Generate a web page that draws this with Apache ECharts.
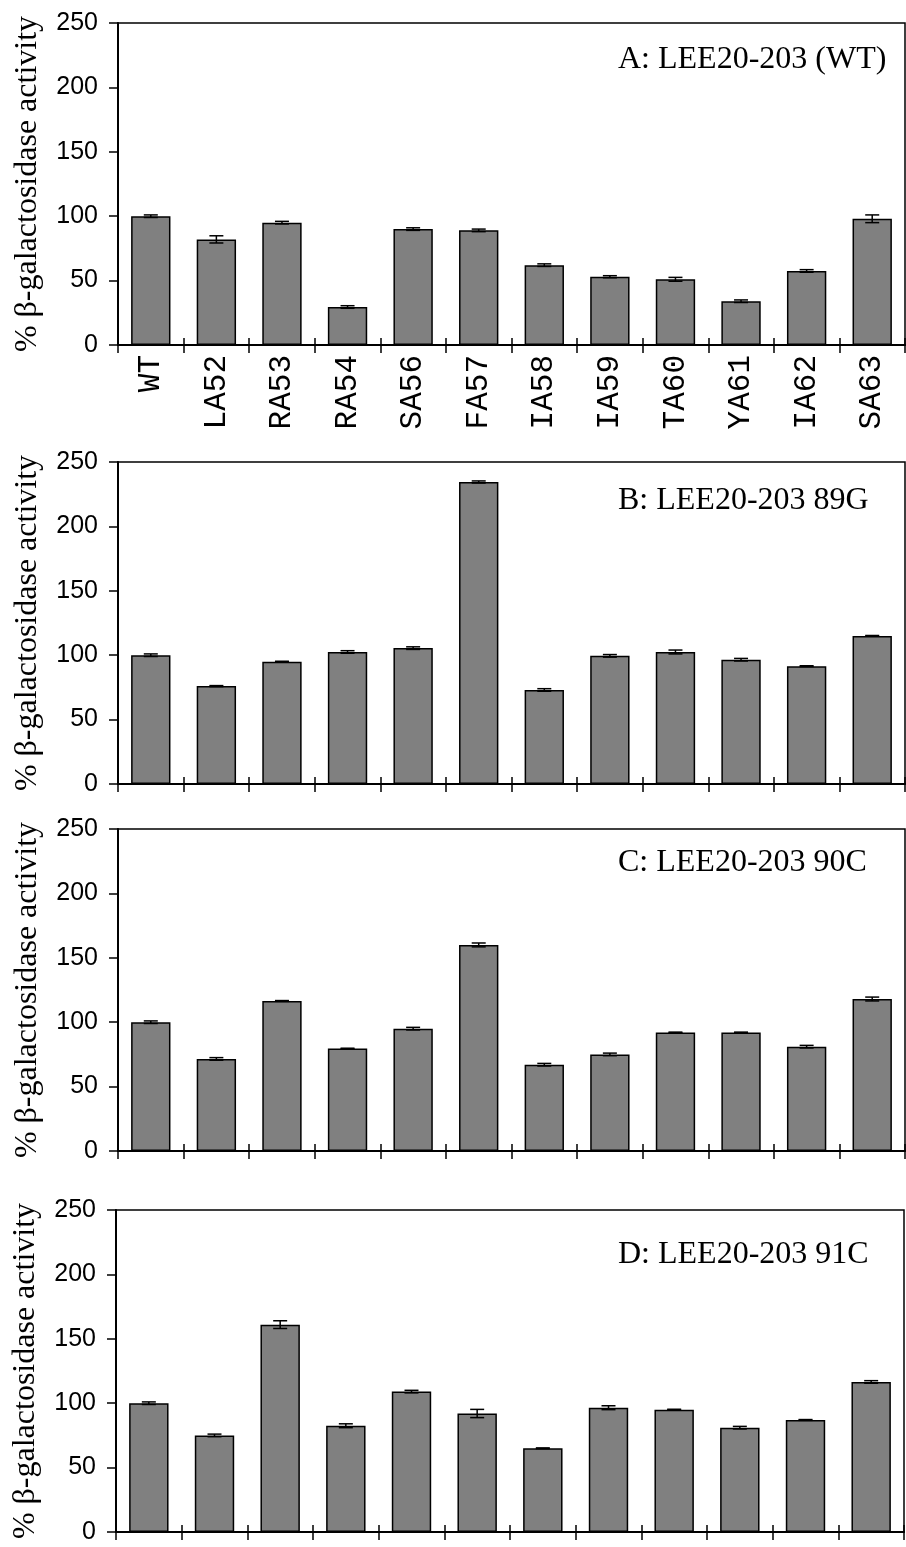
<!DOCTYPE html>
<html>
<head>
<meta charset="utf-8">
<script src="https://cdn.jsdelivr.net/npm/echarts@6/dist/echarts.min.js"></script>
<style>
html,body{margin:0;padding:0;background:#fff;}
#chart{width:906px;height:1547px;}
</style>
</head>
<body>
<div id="chart"></div>
<script>
var categories = ['WT','LA52','RA53','RA54','SA56','FA57','IA58','IA59','TA60','YA61','IA62','SA63'];
var panelTitles = ['A: LEE20-203 (WT)','B: LEE20-203 89G','C: LEE20-203 90C','D: LEE20-203 91C'];
var yTickValues = [0, 50, 100, 150, 200, 250];
var yAxisTitle = '% \u03b2-galactosidase activity';

var valuesA = [100, 82, 95, 29.5, 90, 89, 62, 53, 51, 34, 57.5, 98];
var errorsA = [1, 2.8, 1, 1, 1, 1, 1, 0.8, 1.5, 1, 1, 3];
var valuesB = [100, 76, 95, 102.5, 105.5, 234.5, 73, 99.5, 102.5, 96.5, 91.5, 115];
var errorsB = [1, 0.4, 0.3, 1, 1, 0.8, 1, 1, 1.5, 1, 0.3, 0.3];
var valuesC = [100, 71.5, 116.5, 79.5, 95, 160, 67, 75, 92, 92, 81, 118];
var errorsC = [1, 1, 0.3, 0.3, 1, 1.5, 1, 1, 0.3, 0.3, 1, 1.5];
var valuesD = [100, 75, 161, 82.5, 109, 92, 65, 96.5, 95, 81, 87, 116.5];
var errorsD = [1, 1, 3, 1.5, 1, 3.2, 0.3, 1.5, 0.3, 1, 0.3, 1];

var allValues = [valuesA, valuesB, valuesC, valuesD];
var allErrors = [errorsA, errorsB, errorsC, errorsD];

var layouts = [
  {left: 118, top: 23, width: 787, height: 322, titleTop: 44},
  {left: 118, top: 462, width: 787, height: 322, titleTop: 485},
  {left: 118, top: 829, width: 787, height: 322, titleTop: 847},
  {left: 116, top: 1210, width: 788, height: 322, titleTop: 1239}
];

var chart = echarts.init(document.getElementById('chart'), null, {renderer: 'canvas'});

var grids = [], xAxes = [], yAxes = [], series = [], titles = [];

layouts.forEach(function (L, i) {
  grids.push({left: L.left, top: L.top, width: L.width, height: L.height,
    show: true, borderColor: '#000', borderWidth: 1.5, backgroundColor: 'transparent', containLabel: false});
  xAxes.push({
    type: 'category', gridIndex: i, data: categories, position: 'bottom',
    axisLine: {show: true, lineStyle: {color: '#000', width: 2}},
    axisTick: {show: true, inside: false, length: 8, lineStyle: {color: '#000', width: 1.5}},
    axisLabel: {show: i === 0, rotate: 90, margin: 10, interval: 0,
      fontFamily: 'Liberation Mono', fontSize: 31, color: '#000'},
    splitLine: {show: false}, z: 5
  });
  xAxes.push({
    type: 'category', gridIndex: i, data: categories, position: 'bottom',
    axisLine: {show: false},
    axisTick: {show: true, inside: true, length: 7, lineStyle: {color: '#000', width: 1.5}},
    axisLabel: {show: false}, splitLine: {show: false}, z: 5
  });
  yAxes.push({
    type: 'value', gridIndex: i, min: 0, max: 250, interval: 50,
    axisLine: {show: true, lineStyle: {color: '#000', width: 2}},
    axisTick: {show: true, inside: false, length: 9, lineStyle: {color: '#000', width: 1.5}},
    axisLabel: {margin: 20, fontFamily: 'Liberation Sans', fontSize: 25, color: '#000',
      customValues: yTickValues},
    splitLine: {show: false},
    name: yAxisTitle, nameLocation: 'middle', nameGap: 74, nameRotate: 90,
    nameTextStyle: {fontFamily: 'Liberation Serif', fontSize: 32, color: '#000'}
  });
  series.push({
    type: 'bar', xAxisIndex: i * 2, yAxisIndex: i, data: allValues[i], barWidth: '60%',
    itemStyle: {color: '#808080', borderColor: '#000', borderWidth: 1.5}, z: 2, animation: false
  });
  var errData = allValues[i].map(function (v, k) { return [k, v, allErrors[i][k]]; });
  series.push({
    type: 'custom', xAxisIndex: i * 2, yAxisIndex: i, data: errData, z: 3, animation: false,
    renderItem: function (params, api) {
      var x = api.value(0), v = api.value(1), e = api.value(2);
      var hi = api.coord([x, v + e]);
      var lo = api.coord([x, v - e]);
      var hw = 7;
      var st = {stroke: '#000', lineWidth: 1.5};
      return {type: 'group', children: [
        {type: 'line', shape: {x1: hi[0], y1: hi[1], x2: lo[0], y2: lo[1]}, style: st},
        {type: 'line', shape: {x1: hi[0] - hw, y1: hi[1], x2: hi[0] + hw, y2: hi[1]}, style: st},
        {type: 'line', shape: {x1: lo[0] - hw, y1: lo[1], x2: lo[0] + hw, y2: lo[1]}, style: st}
      ]};
    }
  });
  titles.push({text: panelTitles[i], left: 618, top: L.titleTop, padding: 0,
    textStyle: {fontFamily: 'Liberation Serif', fontSize: 32, fontWeight: 'normal', color: '#000'}});
});

chart.setOption({
  backgroundColor: '#fff',
  animation: false,
  title: titles,
  grid: grids,
  xAxis: xAxes,
  yAxis: yAxes,
  series: series
});
</script>
</body>
</html>
